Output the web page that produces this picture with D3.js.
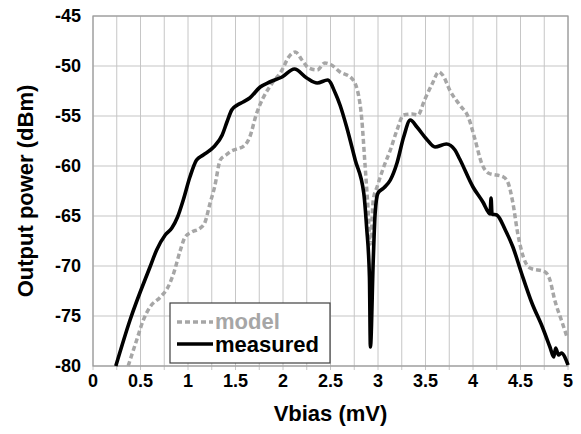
<!DOCTYPE html>
<html>
<head>
<meta charset="utf-8">
<script src="https://cdn.jsdelivr.net/npm/d3@7"></script>
<style>
  html, body { margin: 0; padding: 0; background: #fff; }
  svg { display: block; }
  text { font-family: "Liberation Sans", Arial, sans-serif; font-weight: bold; }
</style>
</head>
<body>
<svg id="chart" width="581" height="434"></svg>
<script>
// ---- data ----
const measuredV = [0.24,0.39,0.6,0.67,0.76,0.83,0.89,0.95,1.02,1.09,1.16,1.27,1.36,1.41,1.46,1.52,1.58,1.65,1.76,1.86,1.99,2.12,2.25,2.36,2.47,2.55,2.6,2.67,2.76,2.85,2.88,2.91,2.92,2.95,2.97,3.0,3.06,3.13,3.2,3.27,3.34,3.41,3.51,3.6,3.72,3.81,3.86,4.0,4.11,4.16,4.18,4.19,4.2,4.25,4.34,4.42,4.51,4.62,4.73,4.81,4.85,4.87,4.9,4.93,5.0];
const measuredP = [-80,-75.4,-70.1,-68.4,-66.9,-66.2,-65.1,-63.4,-61.1,-59.4,-58.9,-58.1,-56.9,-55.6,-54.4,-53.9,-53.6,-53.2,-52.1,-51.6,-51.1,-50.3,-51.2,-51.7,-51.4,-52.7,-53.9,-56.1,-59.4,-62.7,-66.1,-71.1,-78.1,-69.4,-64.7,-62.7,-62.2,-61.4,-59.7,-57.1,-55.4,-56.1,-57.3,-58.1,-57.8,-58.4,-59.3,-62.1,-63.7,-64.6,-64.8,-63.2,-64.8,-64.9,-66.4,-68.1,-70.7,-73.7,-76.1,-78.1,-79.1,-78.2,-78.9,-78.7,-79.9];
const modelV = [0.37,0.46,0.53,0.6,0.71,0.79,0.85,0.92,0.97,1.04,1.13,1.18,1.23,1.28,1.34,1.4,1.44,1.6,1.65,1.72,1.79,1.88,1.99,2.06,2.13,2.2,2.27,2.36,2.44,2.51,2.6,2.72,2.79,2.83,2.86,2.89,2.92,2.95,2.99,3.06,3.13,3.2,3.27,3.36,3.42,3.49,3.57,3.64,3.68,3.76,3.86,3.95,4.02,4.09,4.16,4.32,4.37,4.42,4.47,4.53,4.6,4.76,4.81,4.86,4.93,4.99];
const modelP = [-80,-77.4,-75.4,-74.1,-73.1,-72.1,-70.7,-68.4,-67.1,-66.6,-66.2,-65.6,-63.8,-62.1,-59.4,-58.9,-58.6,-57.9,-57.1,-54.8,-53.2,-51.8,-50.4,-49.1,-48.6,-49.4,-50.2,-50.4,-49.7,-49.9,-50.6,-51.2,-52.7,-55.4,-59.4,-63.5,-67.8,-63.4,-62.1,-60.1,-58.4,-56.4,-54.9,-54.8,-54.9,-53.4,-51.8,-50.6,-50.9,-52.5,-53.9,-55.1,-57.3,-59.7,-60.7,-61.1,-61.7,-63.7,-66.7,-69.1,-70.2,-70.6,-71.4,-73.4,-75.4,-77.1];
const xTicks = [0,0.5,1,1.5,2,2.5,3,3.5,4,4.5,5];
const xGrid = d3.range(0, 5.001, 0.25);
const yTicks = [-80,-75,-70,-65,-60,-55,-50,-45];
const seriesNames = ["model", "measured"];
const xTitle = "Vbias (mV)";
const yTitle = "Output power (dBm)";

// ---- layout ----
const svg = d3.select("#chart");
const L = 93, R = 568, T = 16, B = 366;
const x = d3.scaleLinear().domain([0, 5]).range([L, R]);
const y = d3.scaleLinear().domain([-80, -45]).range([B, T]);

// grid
svg.append("g").selectAll("line.v").data(xGrid).join("line")
  .attr("x1", d => x(d)).attr("x2", d => x(d))
  .attr("y1", T).attr("y2", B + 4)
  .attr("stroke", "#c6c6c6").attr("stroke-width", 1);
svg.append("g").selectAll("line.h").data(yTicks).join("line")
  .attr("x1", L).attr("x2", R)
  .attr("y1", d => y(d)).attr("y2", d => y(d))
  .attr("stroke", "#c6c6c6").attr("stroke-width", 1.2);

// frame
svg.append("rect").attr("x", L).attr("y", T).attr("width", R - L).attr("height", B - T)
  .attr("fill", "none").attr("stroke", "#9a9a9a").attr("stroke-width", 1.2);

// tick labels
svg.append("g").selectAll("text").data(xTicks).join("text")
  .attr("x", d => x(d)).attr("y", 387)
  .attr("text-anchor", "middle").attr("font-size", 18).attr("fill", "#000")
  .text(d => d);
svg.append("g").selectAll("text").data(yTicks).join("text")
  .attr("x", 81).attr("y", d => y(d) + 6)
  .attr("text-anchor", "end").attr("font-size", 18).attr("fill", "#000")
  .text(d => d);

// titles
svg.append("text").attr("x", (L + R) / 2).attr("y", 421)
  .attr("text-anchor", "middle").attr("font-size", 22).text(xTitle);
svg.append("text").attr("transform", `translate(33,${(T + B) / 2}) rotate(-90)`)
  .attr("text-anchor", "middle").attr("font-size", 22).text(yTitle);

// lines
const line = d3.line().x(d => x(d[0])).y(d => y(d[1])).curve(d3.curveMonotoneX);
const modelData = modelV.map((v, i) => [v, modelP[i]]);
const measuredData = measuredV.map((v, i) => [v, measuredP[i]]);
svg.append("path").datum(modelData).attr("d", line)
  .attr("fill", "none").attr("stroke", "#a6a6a6").attr("stroke-width", 3.5)
  .attr("stroke-dasharray", "5,3");
svg.append("path").datum(measuredData).attr("d", line)
  .attr("fill", "none").attr("stroke", "#000").attr("stroke-width", 3.6)
  .attr("stroke-linejoin", "round");

// legend
const lg = svg.append("g");
lg.append("rect").attr("x", 170).attr("y", 303).attr("width", 160).attr("height", 60)
  .attr("fill", "#fff").attr("stroke", "#404040").attr("stroke-width", 1.2);
const legendItems = [
  { name: seriesNames[0], color: "#a6a6a6", dash: "5,3", ly: 322, ty: 329 },
  { name: seriesNames[1], color: "#000", dash: null, ly: 344, ty: 352 }
];
legendItems.forEach(it => {
  lg.append("line").attr("x1", 177).attr("x2", 213).attr("y1", it.ly).attr("y2", it.ly)
    .attr("stroke", it.color).attr("stroke-width", 3.5)
    .attr("stroke-dasharray", it.dash);
  lg.append("text").attr("x", 215).attr("y", it.ty).attr("font-size", 22)
    .attr("fill", it.color).text(it.name);
});
</script>
</body>
</html>
